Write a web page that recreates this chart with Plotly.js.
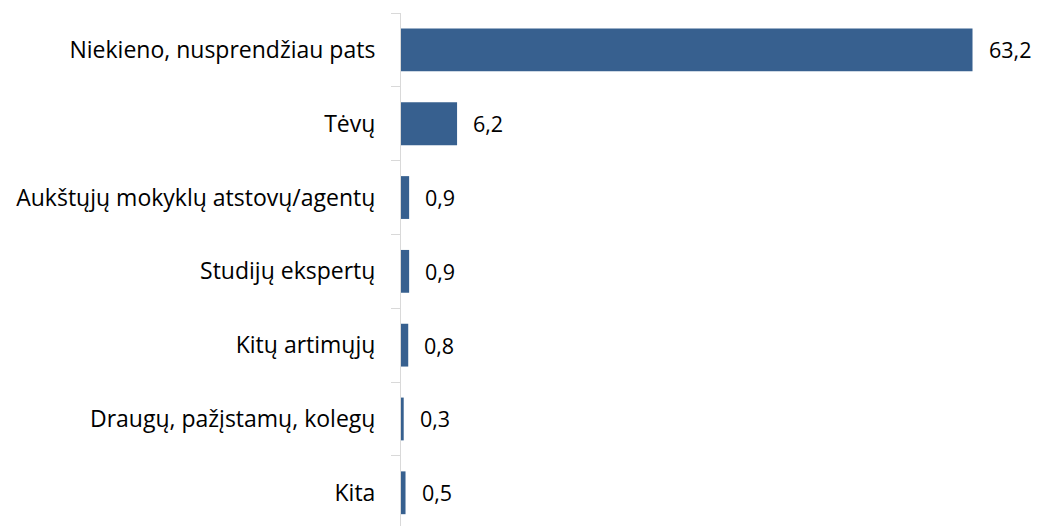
<!DOCTYPE html>
<html>
<head>
<meta charset="utf-8">
<script src="https://cdn.plot.ly/plotly-3.0.1.min.js"></script>
<style>html,body{margin:0;padding:0;background:#fff;}#chart{width:1039px;height:526px;}</style>
</head>
<body>
<div id="chart"></div>
<script>
const categories = [
  "Niekieno, nusprendžiau pats",
  "Tėvų",
  "Aukštųjų mokyklų atstovų/agentų",
  "Studijų ekspertų",
  "Kitų artimųjų",
  "Draugų, pažįstamų, kolegų",
  "Kita"
];
const values = [63.2, 6.2, 0.9, 0.9, 0.8, 0.3, 0.5];
const valueLabels = values.map(v => v.toFixed(1).replace('.', ','));

const catFont = {family: "'Open Sans', 'Noto Sans', sans-serif", size: 23, color: "#000"};
const valFont = {family: "'Open Sans', 'Noto Sans', sans-serif", size: 21.5, color: "#000"};

const trace = {
  type: "bar",
  orientation: "h",
  x: values,
  y: categories,
  marker: {color: "#37608f"},
  width: 0.58,
  hoverinfo: "none"
};

const annotations = values.map((v, i) => ({
  x: v, y: categories[i], xref: "x", yref: "y",
  text: valueLabels[i], showarrow: false,
  xanchor: "left", xshift: 14, font: valFont
}));

const layout = {
  width: 1039, height: 526,
  margin: {l: 401, r: 5, t: 13, b: 0},
  paper_bgcolor: "#fff", plot_bgcolor: "#fff",
  showlegend: false,
  font: catFont,
  xaxis: {visible: false, range: [0, 70], showgrid: false, zeroline: false, fixedrange: true},
  yaxis: {
    type: "category", range: [6.45, -0.5],
    showline: true, linecolor: "#d9d9d9", linewidth: 1,
    ticks: "outside", tickson: "boundaries", ticklen: 9, tickcolor: "#d9d9d9", tickwidth: 1,
    ticklabelstandoff: 20,
    showgrid: false, zeroline: false, tickfont: catFont
  },
  annotations: annotations
};

Plotly.newPlot("chart", [trace], layout, {displayModeBar: false, staticPlot: true});
</script>
</body>
</html>
